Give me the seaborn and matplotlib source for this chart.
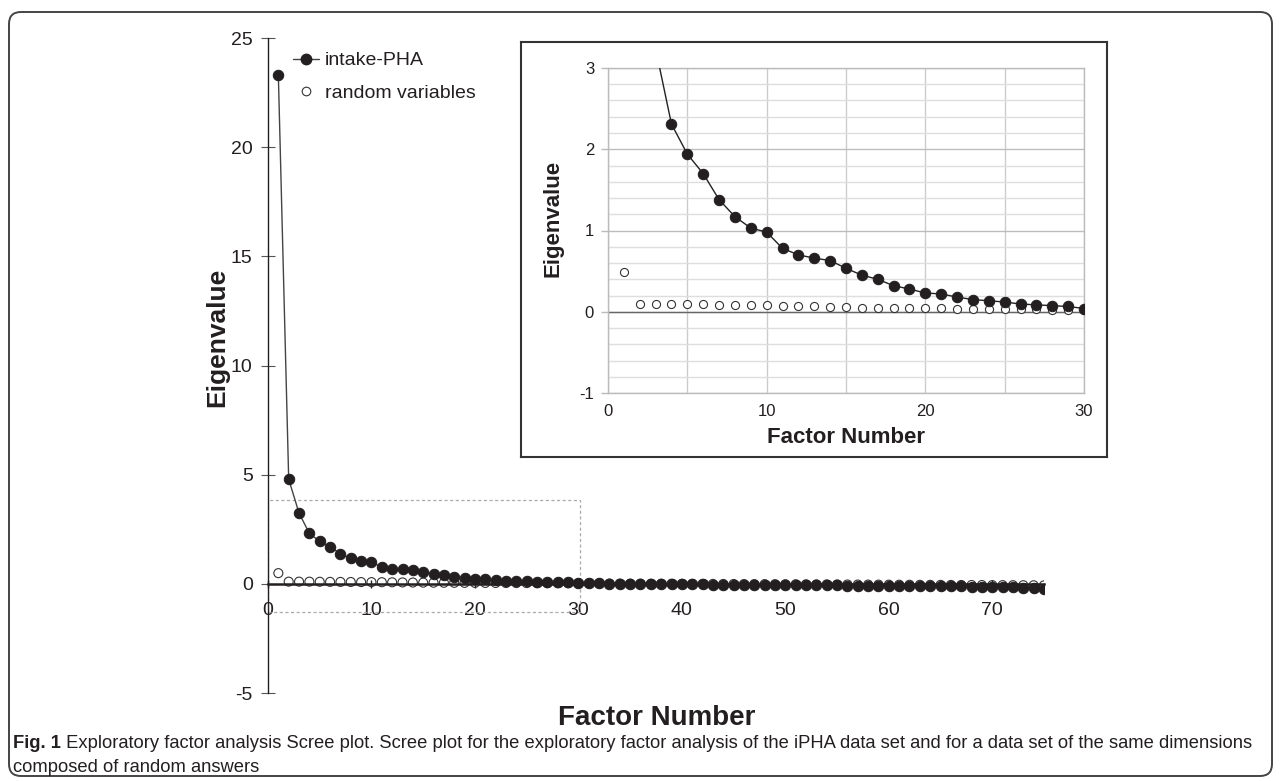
import numpy as np
import pandas as pd
import matplotlib
matplotlib.use("Agg")
import matplotlib.pyplot as plt
import seaborn as sns
from matplotlib.patches import Rectangle, FancyBboxPatch
from matplotlib.transforms import IdentityTransform
from matplotlib.ticker import MultipleLocator
from matplotlib.lines import Line2D

# ---------------- data ----------------
factor_number = list(range(1, 76))
intake_pha = [23.3, 4.79, 3.24, 2.31, 1.94, 1.70, 1.38, 1.17, 1.03, 0.98,
              0.78, 0.70, 0.66, 0.63, 0.535, 0.45, 0.40, 0.32, 0.28, 0.23,
              0.22, 0.18, 0.15, 0.135, 0.12, 0.095, 0.085, 0.075, 0.065, 0.04,
              0.03, 0.02, 0.01, 0.005, 0.0, -0.005, -0.01, -0.015, -0.02, -0.02,
              -0.025, -0.03, -0.035, -0.04, -0.04, -0.045, -0.05, -0.05, -0.055, -0.06,
              -0.06, -0.065, -0.07, -0.07, -0.075, -0.08, -0.08, -0.085, -0.09, -0.09,
              -0.095, -0.10, -0.10, -0.105, -0.11, -0.115, -0.12, -0.125, -0.13, -0.14,
              -0.15, -0.16, -0.18, -0.21, -0.25]
random_vars = [0.49, 0.10, 0.10, 0.10, 0.095, 0.09, 0.088, 0.085, 0.08, 0.078,
               0.075, 0.07, 0.065, 0.06, 0.055, 0.052, 0.05, 0.048, 0.046, 0.044,
               0.042, 0.04, 0.038, 0.035, 0.033, 0.03, 0.028, 0.026, 0.024, 0.022,
               0.02, 0.018, 0.016, 0.014, 0.012, 0.01, 0.008, 0.006, 0.004, 0.002,
               0.0, -0.002, -0.004, -0.006, -0.008, -0.01, -0.012, -0.014, -0.016, -0.018,
               -0.02, -0.022, -0.024, -0.026, -0.028, -0.03, -0.032, -0.034, -0.036, -0.038,
               -0.04, -0.042, -0.044, -0.046, -0.048, -0.05, -0.052, -0.054, -0.056, -0.058,
               -0.06, -0.062, -0.064, -0.066, -0.07]
main_xticks = [0, 10, 20, 30, 40, 50, 60, 70]
main_yticks = [-5, 0, 5, 10, 15, 20, 25]
inset_xticks = [0, 10, 20, 30]
inset_yticks = [-1, 0, 1, 2, 3]
inset_n = 30

caption_bold = "Fig. 1"
caption_line1 = (" Exploratory factor analysis Scree plot. Scree plot for the exploratory factor "
                 "analysis of the iPHA data set and for a data set of the same dimensions")
caption_line2 = "composed of random answers"

df = pd.DataFrame({"factor": factor_number, "intake": intake_pha, "random": random_vars})
df_in = df[df["factor"] <= inset_n]

# ---------------- style ----------------
sns.set_theme(style="white")
plt.rcParams["font.family"] = ["Liberation Sans", "DejaVu Sans"]
plt.rcParams["axes.unicode_minus"] = False
TXT = "#231f20"

W, H = 1281, 781
fig = plt.figure(figsize=(W / 100, H / 100), dpi=100)

def fx(px):
    return px / W

def fy(py):
    return 1 - py / H

# ---------------- main axes ----------------
ax = fig.add_axes([fx(268), fy(693), fx(1044) - fx(268), fy(38) - fy(693)])
ax.set_facecolor("none")
ax.set_xlim(0, 75)
ax.set_ylim(-5, 25)

ax.add_patch(Rectangle((0, -1.28), 30.2, 5.12, fill=False, ec="#aaaaaa",
                       lw=0.9, ls=(0, (2.5, 2)), zorder=1))

sns.scatterplot(data=df, x="factor", y="random", ax=ax, marker="o", s=42,
                facecolors="none", edgecolor="#333333", linewidth=0.8,
                zorder=2, legend=False)
sns.lineplot(data=df, x="factor", y="intake", ax=ax, color="#444444", lw=1.0,
             marker="o", markersize=7.5, markerfacecolor=TXT, markeredgecolor=TXT,
             zorder=3, legend=False)

for s in ["top", "right"]:
    ax.spines[s].set_visible(False)
ax.spines["left"].set_color(TXT)
ax.spines["left"].set_linewidth(1.0)
ax.spines["bottom"].set_position(("data", 0))
ax.spines["bottom"].set_color(TXT)
ax.spines["bottom"].set_linewidth(1.8)
ax.spines["bottom"].set_zorder(4)

ax.set_xticks(main_xticks)
ax.set_yticks(main_yticks)
ax.tick_params(axis="y", direction="inout", length=10, width=0.8, color="#555555",
               labelsize=14, labelcolor=TXT, pad=6, left=True)
ax.tick_params(axis="x", direction="inout", length=6, width=1.0, color=TXT,
               labelsize=14, labelcolor=TXT, pad=10, bottom=True)
ax.set_xlabel("")
ax.set_ylabel("")

h1 = Line2D([], [], color="#444444", lw=1.0, marker="o", markersize=7.5,
            markerfacecolor=TXT, markeredgecolor=TXT)
h2 = Line2D([], [], color="none", marker="o", markersize=6.2, markerfacecolor="none",
            markeredgecolor="#333333", markeredgewidth=0.8)
leg = ax.legend([h1, h2], ["intake-PHA", "random variables"], loc="upper left",
                bbox_to_anchor=((287 - 268) / (1044 - 268), 1 - 8 / (693 - 38)),
                bbox_transform=ax.transAxes,
                frameon=False, fontsize=14, handlelength=1.35, handletextpad=0.3,
                labelspacing=0.75, borderaxespad=0.0, borderpad=0.3)
for t in leg.get_texts():
    t.set_color(TXT)

fig.text(fx(217), fy(337), "Eigenvalue", ha="center", va="center", rotation=90,
         fontsize=19, fontweight="bold", color=TXT)
fig.text(fx(657), fy(718), "Factor Number", ha="center", va="center",
         fontsize=20, fontweight="bold", color=TXT)

# ---------------- inset frame ----------------
frame = fig.add_axes([fx(521), fy(457), fx(1107) - fx(521), fy(42) - fy(457)])
frame.set_facecolor("white")
frame.set_xticks([])
frame.set_yticks([])
for s in frame.spines.values():
    s.set_color("#333333")
    s.set_linewidth(1.5)
    s.set_visible(True)

# ---------------- inset axes ----------------
axi = fig.add_axes([fx(608), fy(393), fx(1084) - fx(608), fy(68) - fy(393)])
axi.set_facecolor("white")
axi.set_xlim(0, 30)
axi.set_ylim(-1, 3)
axi.xaxis.set_major_locator(MultipleLocator(10))
axi.xaxis.set_minor_locator(MultipleLocator(5))
axi.yaxis.set_major_locator(MultipleLocator(1))
axi.yaxis.set_minor_locator(MultipleLocator(0.2))
axi.grid(True, which="major", axis="y", color="#bdbdbd", lw=1.0)
axi.grid(True, which="minor", axis="y", color="#dedede", lw=1.0)
axi.grid(True, which="both", axis="x", color="#cccccc", lw=1.0)
axi.set_axisbelow(True)
axi.axhline(0, color="#666666", lw=1.0, zorder=1.5)

sns.scatterplot(data=df_in, x="factor", y="random", ax=axi, marker="o", s=34,
                facecolors="white", edgecolor="#333333", linewidth=0.8, zorder=2,
                legend=False)
sns.lineplot(data=df_in, x="factor", y="intake", ax=axi, color="#222222", lw=1.0,
             marker="o", markersize=7.5, markerfacecolor=TXT, markeredgecolor=TXT,
             zorder=3, legend=False)

for s in axi.spines.values():
    s.set_color("#bbbbbb")
    s.set_linewidth(1.0)
axi.set_xticks(inset_xticks)
axi.set_yticks(inset_yticks)
axi.tick_params(axis="y", which="major", direction="out", length=5, width=1.0,
                color="#bbbbbb", labelsize=12, labelcolor=TXT, pad=5, left=True)
axi.tick_params(axis="y", which="minor", length=0)
axi.tick_params(axis="x", which="both", length=0, labelsize=12, labelcolor=TXT, pad=8)
axi.set_xlabel("Factor Number", fontsize=16, fontweight="bold", color=TXT, labelpad=6)
axi.set_ylabel("")
fig.text(fx(553), fy(218), "Eigenvalue", ha="center", va="center", rotation=90,
         fontsize=16, fontweight="bold", color=TXT)

# ---------------- caption + border ----------------
fig.patches.append(FancyBboxPatch((9, 5), 1263, 764, boxstyle="round,pad=0,rounding_size=12",
                                  transform=IdentityTransform(), fill=False,
                                  ec="#444444", lw=1.4, figure=fig))

cap_font = ["Liberation Sans Narrow", "Liberation Sans", "DejaVu Sans"]
cap_size = 13.25
tb = fig.text(fx(13), fy(744), caption_bold, ha="left", va="center", fontsize=cap_size,
              fontweight="bold", color=TXT, family=cap_font)
renderer = fig.canvas.get_renderer()
bb = tb.get_window_extent(renderer=renderer)
fig.text(bb.x1 / W, fy(744), caption_line1, ha="left", va="center", fontsize=cap_size,
         color=TXT, family=cap_font)
fig.text(fx(13), fy(767), caption_line2, ha="left", va="center", fontsize=cap_size,
         color=TXT, family=cap_font)

fig.savefig("out.png", dpi=100)
